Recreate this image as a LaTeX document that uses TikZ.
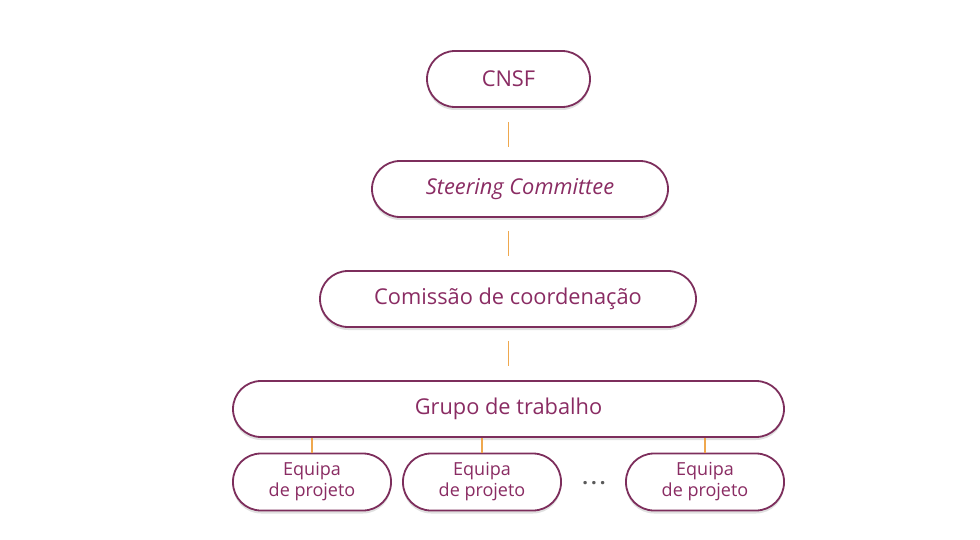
\documentclass[tikz,border=0pt]{standalone}
\usepackage{fontspec}
\setmainfont{Open Sans}
\usetikzlibrary{shadows}
\definecolor{boxline}{HTML}{7D2E5C}
\definecolor{boxtext}{HTML}{8A2C63}
\definecolor{conn}{HTML}{EFA84E}
\tikzset{
  pill/.style={draw=boxline, line width=1.8pt, fill=white, rounded corners=28pt,
    minimum height=56pt, inner sep=0pt, text=boxtext, font=\fontsize{21.8}{25}\selectfont,
    drop shadow={shadow xshift=0pt, shadow yshift=-3pt, opacity=0.12, fill=black}},
  smallpill/.style={pill, minimum width=158pt, minimum height=57pt, align=center,
    font=\fontsize{18}{21}\selectfont},
  link/.style={draw=conn, line width=1.3pt}
}
\begin{document}
\begin{tikzpicture}[x=1pt,y=-1pt]
\useasboundingbox (0,0) rectangle (980,540);
\node[pill, minimum width=163pt] (cnsf) at (508.5,79) {CNSF};
\node[pill, minimum width=296pt] (sc) at (520,189) {\itshape Steering Committee};
\node[pill, minimum width=376pt] (cc) at (508,299) {Comissão de coordenação};
\node[pill, minimum width=551pt] (gt) at (508.5,409) {Grupo de trabalho};
\node[smallpill] (e1) at (312,482) {Equipa\\de projeto};
\node[smallpill] (e2) at (482,482) {Equipa\\de projeto};
\node[smallpill] (e3) at (705,482) {Equipa\\de projeto};
\node[text=black!65, anchor=base, inner sep=0pt, font=\fontsize{20}{22}\selectfont\bfseries] (dots) at (594,484) {.\hspace{3pt}.\hspace{3pt}.};
\draw[link, shorten <=14pt, shorten >=13pt] (cnsf.south) -- (cnsf.south |- sc.north);
\draw[link, shorten <=13pt, shorten >=14pt] (sc.south -| cnsf.south) -- (cnsf.south |- cc.north);
\draw[link, shorten <=13pt, shorten >=14pt] (cc.south -| cnsf.south) -- (cnsf.south |- gt.north);
\draw[link] (e1.north |- gt.south) -- (e1.north);
\draw[link] (e2.north |- gt.south) -- (e2.north);
\draw[link] (e3.north |- gt.south) -- (e3.north);
\end{tikzpicture}
\end{document}
